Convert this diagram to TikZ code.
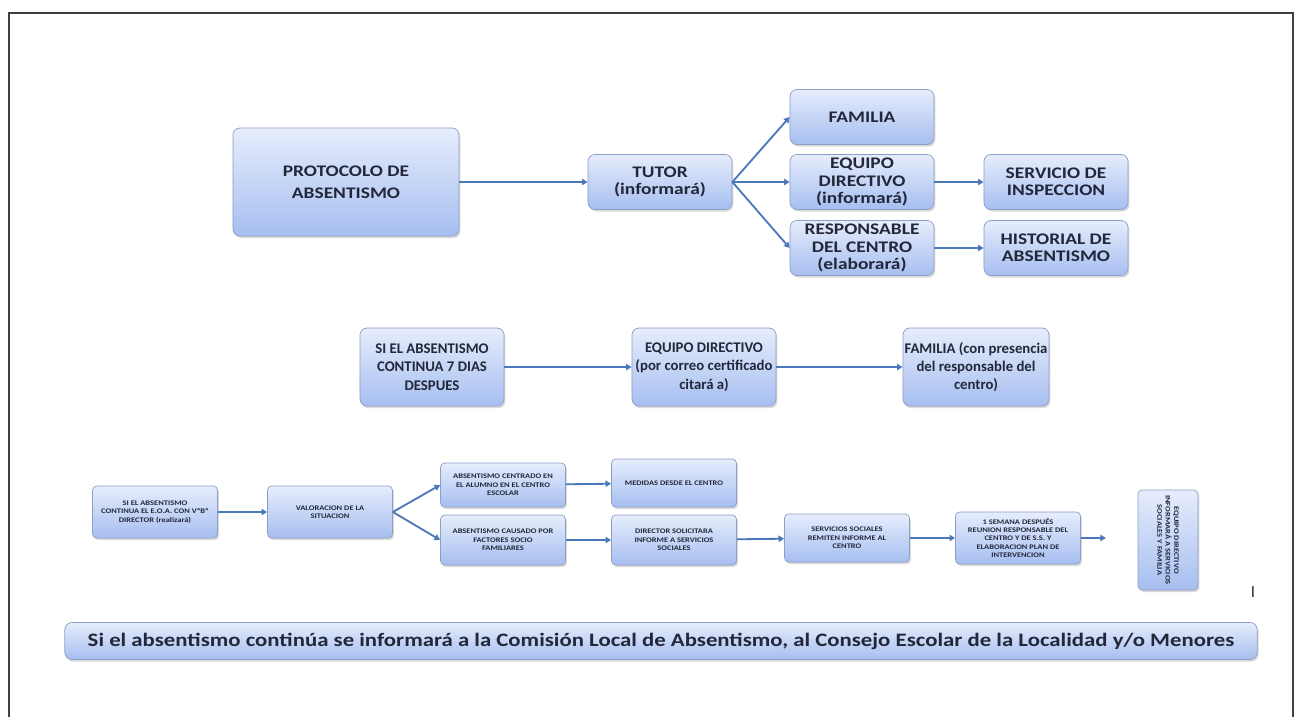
\documentclass[tikz,border=0pt]{standalone}
\usepackage{fontspec}
\setmainfont{Carlito}
\newfontfamily\ancha{Carlito}[FakeStretch=1.2]
\usetikzlibrary{shadows,arrows.meta}
\definecolor{boxtop}{HTML}{E6EDFC}
\definecolor{boxbot}{HTML}{A6BEF0}
\definecolor{boxline}{HTML}{8C9FC4}
\definecolor{flecha}{HTML}{4A78BA}
\definecolor{letra}{HTML}{22283A}

\begin{document}
\begin{tikzpicture}[x=0.025cm,y=-0.025cm]
				\tikzstyle{every node}=[text=letra,align=center,inner sep=2pt]
				\tikzstyle{caja}=[rectangle,rounded corners=5pt,draw=boxline,line width=0.5pt,
				top color=boxtop,bottom color=boxbot,
				drop shadow={opacity=0.3,shadow xshift=1pt,shadow yshift=-1.5pt}]
				\tikzstyle{grande}=[caja,font=\ancha\bfseries\fontsize{11.5}{16}\selectfont]
				\tikzstyle{media}=[caja,font=\ancha\bfseries\fontsize{11.5}{12.3}\selectfont,minimum width=3.6cm,minimum height=1.375cm]
				\tikzstyle{fila}=[caja,font=\bfseries\fontsize{10.5}{13}\selectfont,inner sep=1pt,minimum width=3.6cm,minimum height=1.95cm]
				\tikzstyle{chica}=[caja,rounded corners=3pt,font=\ancha\bfseries\fontsize{5}{6}\selectfont,minimum width=3.125cm,minimum height=1.2cm]
				\tikzstyle{flechita}=[draw=flecha,line width=1.3pt,-{Triangle[length=4pt,width=4.5pt]}]
				\useasboundingbox (0,0) rectangle (1298,717);
				% marco
				\draw[line width=2pt,draw=black!75] (9,717) -- (9,13) -- (1293,13) -- (1293,717);
				% primer bloque
				\node[grande,minimum width=5.65cm,minimum height=2.7cm] (protocolo) at (346,182) {PROTOCOLO DE\\ABSENTISMO};
				\node[media] (tutor) at (660,182) {TUTOR\\(informará)};
				\node[media] (familia) at (862,117) {FAMILIA};
				\node[media] (equipo) at (862,182) {EQUIPO\\DIRECTIVO\\(informará)};
				\node[media] (responsable) at (862,248) {RESPONSABLE\\DEL CENTRO\\(elaborará)};
				\node[media] (inspeccion) at (1056,182) {SERVICIO DE\\INSPECCION};
				\node[media] (historial) at (1056,248) {HISTORIAL DE\\ABSENTISMO};
				\draw[flechita] (protocolo) -- (tutor);
				\draw[flechita] (tutor.east) -- (familia.west);
				\draw[flechita] (tutor.east) -- (equipo.west);
				\draw[flechita] (tutor.east) -- (responsable.west);
				\draw[flechita] (equipo) -- (inspeccion);
				\draw[flechita] (responsable) -- (historial);
				% segundo bloque
				\node[fila] (continua) at (432,367) {SI EL ABSENTISMO\\CONTINUA 7 DIAS\\DESPUES};
				\node[fila] (directivo) at (704,367) {EQUIPO DIRECTIVO\\(por correo certificado\\citará a)};
				\node[fila,minimum width=3.65cm] (citada) at (976,367) {FAMILIA (con presencia\\del responsable del\\centro)};
				\draw[flechita] (continua) -- (directivo);
				\draw[flechita] (directivo) -- (citada);
				% tercer bloque
				\node[chica,minimum height=1.3cm] (eoa) at (155,512) {SI EL ABSENTISMO\\CONTINUA EL E.O.A. CON VºBº\\DIRECTOR (realizará)};
				\node[chica,minimum height=1.3cm] (valoracion) at (330,512) {VALORACION DE LA\\SITUACION};
				\node[chica,minimum height=1.1cm] (centrado) at (503,485) {ABSENTISMO CENTRADO EN\\EL ALUMNO EN EL CENTRO\\ESCOLAR};
				\node[chica,minimum height=1.25cm] (causado) at (503,540) {ABSENTISMO CAUSADO POR\\FACTORES SOCIO\\FAMILIARES};
				\node[chica,minimum height=1.2cm] (medidas) at (674,483) {MEDIDAS DESDE EL CENTRO};
				\node[chica,minimum height=1.25cm] (solicita) at (674,540) {DIRECTOR SOLICITARA\\INFORME A SERVICIOS\\SOCIALES};
				\node[chica,minimum height=1.2cm] (remiten) at (847,538) {SERVICIOS SOCIALES\\REMITEN INFORME AL\\CENTRO};
				\node[chica,minimum height=1.3cm] (semana) at (1018,538) {1 SEMANA DESPUÉS\\REUNION RESPONSABLE DEL\\CENTRO Y DE S.S. Y\\ELABORACION PLAN DE\\INTERVENCION};
				\node[chica,minimum width=2.5cm,minimum height=1.5cm,rotate=-90] (informa) at (1168,540) {EQUIPO DIRECTIVO\\INFORMARÁ A SERVICIOS\\SOCIALES Y FAMILIA};
				\coordinate (fin) at (1106,538);
				\draw[flechita] (eoa) -- (valoracion);
				\draw[flechita] (valoracion.east) -- (centrado.west);
				\draw[flechita] (valoracion.east) -- (causado.west);
				\draw[flechita] (centrado) -- (medidas);
				\draw[flechita] (causado) -- (solicita);
				\draw[flechita] (solicita) -- (remiten);
				\draw[flechita] (remiten) -- (semana);
				\draw[flechita] (semana) -- (fin);
				\node[font=\fontsize{12}{12}\selectfont] (marca) at (1253,592) {I};
				% ultimo aviso
				\node[caja,font=\ancha\bfseries\fontsize{13.5}{16}\selectfont,minimum width=29.8cm,minimum height=0.925cm] (comision) at (661,641)
				{Si el absentismo continúa se informará a la Comisión Local de Absentismo, al Consejo Escolar de la Localidad y/o Menores};
\end{tikzpicture}
\end{document}
